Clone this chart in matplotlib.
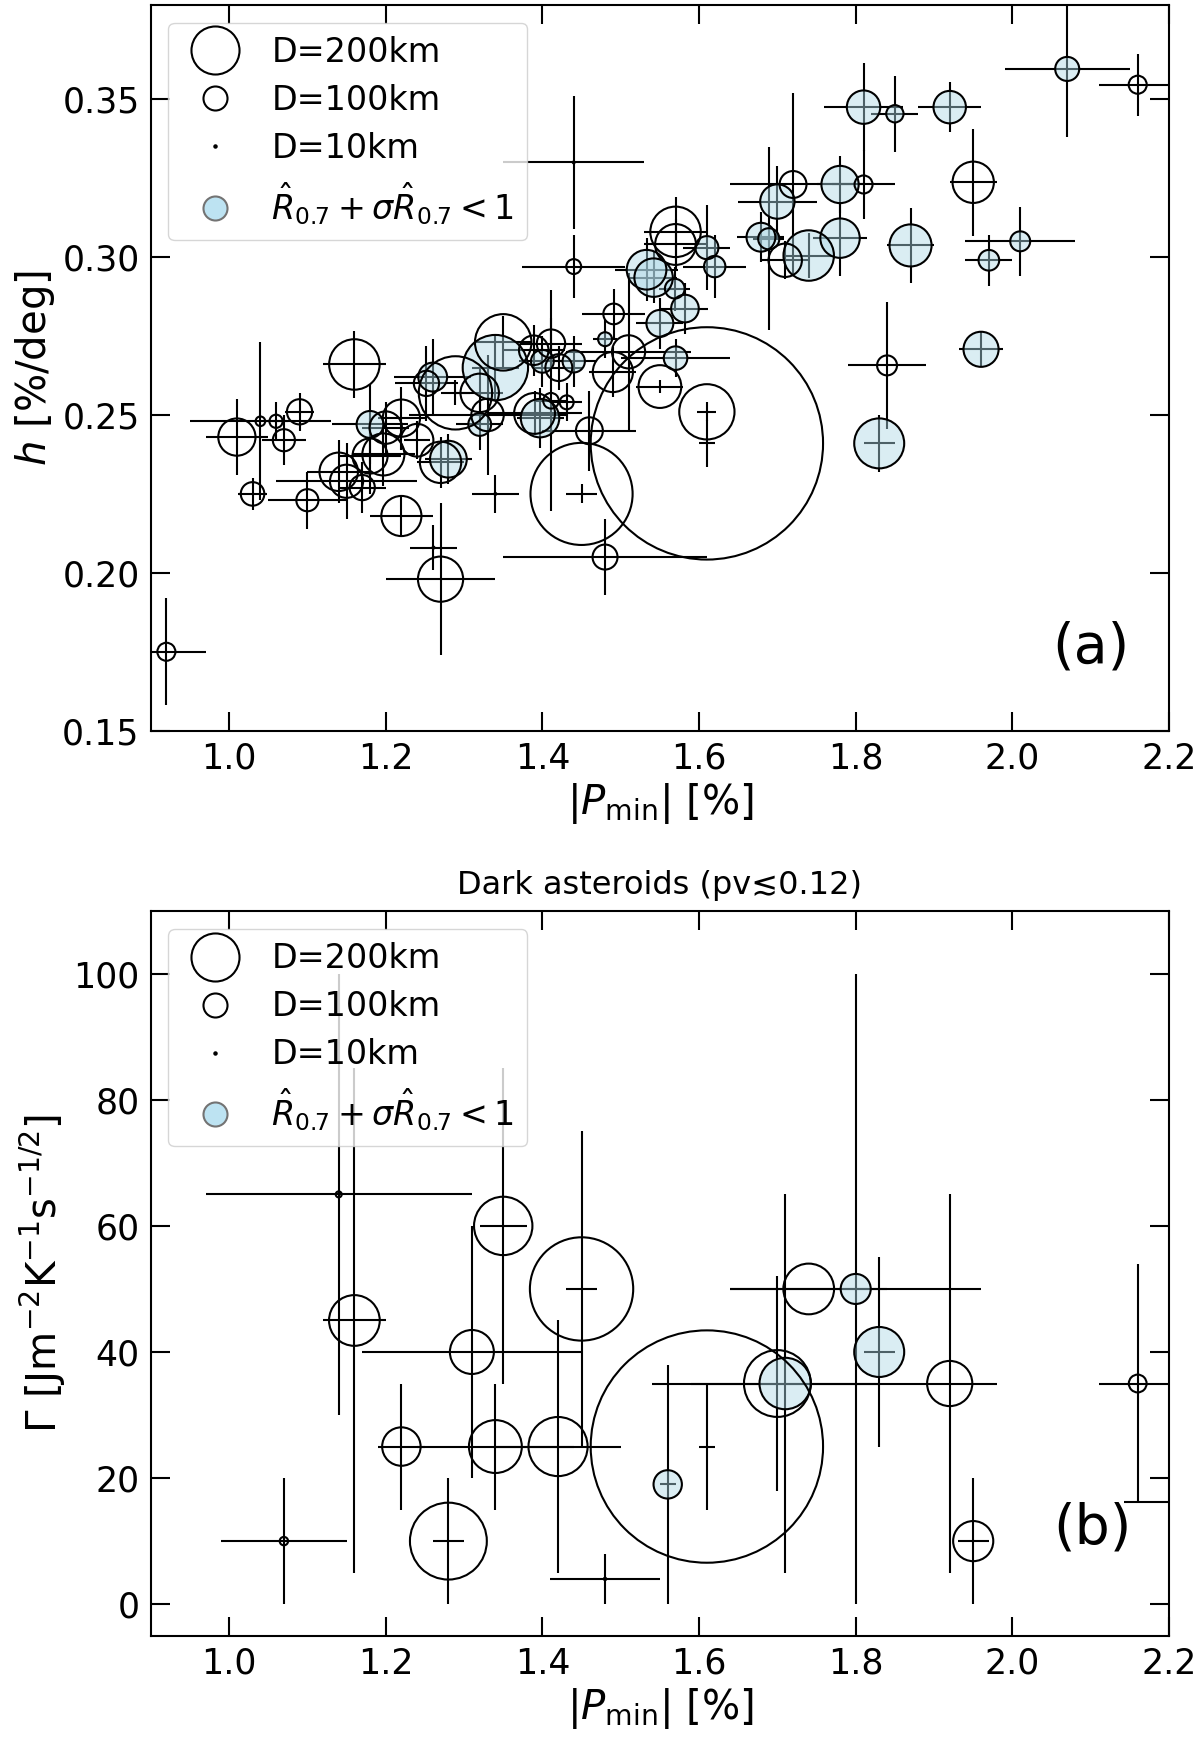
import numpy as np
import matplotlib
matplotlib.use('Agg')
import matplotlib.pyplot as plt
from matplotlib.lines import Line2D

# ---- panel (a): |Pmin| vs slope h ----
pmin_a = [0.920, 1.010, 1.040, 1.060, 1.090, 1.070, 1.030, 1.100, 1.160, 1.140,
          1.150, 1.170, 1.180, 1.180, 1.197, 1.200, 1.220, 1.240, 1.220, 1.252,
          1.260, 1.270, 1.280, 1.261, 1.270, 1.289, 1.320, 1.320, 1.330, 1.340,
          1.350, 1.340, 1.389, 1.400, 1.411, 1.421, 1.440, 1.390, 1.397, 1.411,
          1.431, 1.440, 1.440, 1.450, 1.460, 1.480, 1.491, 1.490, 1.510, 1.480,
          1.533, 1.542, 1.550, 1.582, 1.569, 1.550, 1.570, 1.570, 1.570, 1.610,
          1.620, 1.610, 1.610, 1.679, 1.689, 1.700, 1.710, 1.740, 1.720, 1.780,
          1.810, 1.780, 1.810, 1.850, 1.920, 1.870, 1.840, 1.830, 1.950, 1.960,
          1.970, 2.010, 2.070, 2.160]
pmin_a_err = [0.050, 0.040, 0.090, 0.015, 0.019, 0.028, 0.019, 0.050, 0.040, 0.040,
              0.090, 0.030, 0.049, 0.040, 0.040, 0.030, 0.030, 0.017, 0.040, 0.040,
              0.049, 0.030, 0.030, 0.030, 0.070, 0.018, 0.030, 0.030, 0.100, 0.030,
              0.035, 0.030, 0.040, 0.030, 0.040, 0.030, 0.030, 0.060, 0.030, 0.020,
              0.020, 0.066, 0.090, 0.020, 0.060, 0.015, 0.040, 0.030, 0.080, 0.130,
              0.040, 0.030, 0.030, 0.030, 0.020, 0.030, 0.070, 0.040, 0.040, 0.030,
              0.040, 0.012, 0.010, 0.030, 0.020, 0.050, 0.030, 0.030, 0.080, 0.030,
              0.040, 0.034, 0.050, 0.030, 0.040, 0.030, 0.050, 0.020, 0.030, 0.028,
              0.030, 0.070, 0.080, 0.050]
h = [0.175, 0.243, 0.248, 0.248, 0.251, 0.242, 0.225, 0.223, 0.266, 0.232,
     0.229, 0.227, 0.247, 0.237, 0.2375, 0.246, 0.249, 0.242, 0.218, 0.260,
     0.262, 0.235, 0.236, 0.208, 0.198, 0.257, 0.257, 0.247, 0.250, 0.265,
     0.273, 0.225, 0.2705, 0.267, 0.2726, 0.265, 0.267, 0.2505, 0.249, 0.2545,
     0.254, 0.297, 0.330, 0.225, 0.245, 0.274, 0.282, 0.2636, 0.270, 0.205,
     0.296, 0.2935, 0.279, 0.2837, 0.290, 0.259, 0.268, 0.308, 0.304, 0.303,
     0.297, 0.251, 0.241, 0.3063, 0.3058, 0.3176, 0.299, 0.3005, 0.323, 0.323,
     0.323, 0.306, 0.3475, 0.3454, 0.3475, 0.3037, 0.2657, 0.241, 0.3237, 0.2708,
     0.299, 0.305, 0.3596, 0.3546]
h_err = [0.017, 0.012, 0.025, 0.006, 0.006, 0.008, 0.005, 0.009, 0.0105, 0.010,
         0.012, 0.008, 0.0125, 0.012, 0.010, 0.008, 0.010, 0.006, 0.006, 0.012,
         0.012, 0.008, 0.008, 0.007, 0.024, 0.004, 0.008, 0.008, 0.019, 0.010,
         0.0085, 0.006, 0.008, 0.008, 0.008, 0.007, 0.008, 0.007, 0.0095, 0.035,
         0.006, 0.010, 0.021, 0.003, 0.0127, 0.006, 0.008, 0.008, 0.025, 0.012,
         0.010, 0.008, 0.008, 0.008, 0.007, 0.002, 0.006, 0.011, 0.008, 0.0135,
         0.010, 0.003, 0.0074, 0.008, 0.029, 0.0114, 0.006, 0.007, 0.029, 0.009,
         0.011, 0.012, 0.014, 0.012, 0.008, 0.012, 0.020, 0.009, 0.017, 0.0055,
         0.008, 0.011, 0.0216, 0.0098]
diam_a = [75, 155, 40, 55, 105, 92, 98, 92, 210, 160,
          138, 105, 112, 146, 175, 135, 155, 136, 167, 105,
          120, 172, 153, 8, 188, 305, 160, 95, 135, 272,
          235, 8, 123, 95, 118, 112, 93, 170, 160, 65,
          58, 62, 8, 425, 112, 58, 86, 167, 138, 104,
          165, 160, 112, 115, 82, 178, 98, 210, 170, 96,
          89, 230, 967, 120, 88, 143, 139, 210, 112, 155,
          75, 164, 139, 72, 135, 175, 83, 208, 172, 146,
          86, 83, 100, 75]
flag_a = [0, 0, 0, 0, 0, 0, 0, 0, 0, 0,
          0, 0, 1, 0, 0, 0, 0, 0, 0, 0,
          1, 0, 1, 0, 0, 0, 0, 1, 0, 1,
          0, 0, 0, 1, 0, 0, 1, 0, 1, 0,
          0, 0, 0, 0, 0, 1, 0, 0, 0, 0,
          1, 1, 1, 1, 1, 0, 1, 0, 0, 1,
          1, 0, 0, 1, 1, 1, 0, 1, 0, 1,
          0, 1, 1, 1, 1, 1, 0, 1, 0, 1,
          1, 1, 1, 0]

# ---- panel (b): dark asteroids, |Pmin| vs thermal inertia ----
pmin_b = [1.07, 1.14, 1.16, 1.31, 1.35, 1.45, 1.22, 1.34, 1.42, 1.28,
          1.48, 1.56, 1.61, 1.70, 1.71, 1.92, 1.74, 1.80, 1.83, 1.95,
          2.16, 2.30]
pmin_b_err = [0.08, 0.17, 0.04, 0.14, 0.03, 0.02, 0.03, 0.10, 0.08, 0.02,
              0.07, 0.01, 0.01, 0.16, 0.12, 0.06, 0.10, 0.16, 0.02, 0.02,
              0.05, 0.158]
gamma = [10, 65, 45, 40, 60, 50, 25, 25, 25, 10,
         4, 19, 25, 35, 35, 35, 50, 50, 40, 10,
         35, 16.2]
gamma_err = [10, 35, 40, 20, 25, 25, 10, 10, 20, 10,
             4, 19, 10, 17, 30, 30, 0, 50, 15, 10,
             19, 0]
diam_b = [35, 25, 211, 183, 243, 430, 160, 220, 246, 320,
          10, 118, 967, 278, 214, 188, 211, 125, 208, 167,
          74, 100]
flag_b = [0, 0, 0, 0, 0, 0, 0, 0, 0, 0,
          0, 1, 0, 0, 1, 0, 0, 1, 1, 0,
          0, 0]

k_ms = 0.173  # marker diameter in points per km


def draw_panel(ax, x, y, xe, ye, d, flag):
    x = np.array(x); y = np.array(y)
    d = np.array(d, float); f = np.array(flag, bool)
    s = (k_ms * d) ** 2
    ax.errorbar(x, y, xerr=xe, yerr=ye, fmt='none', ecolor='k',
                elinewidth=1.5, capsize=0, zorder=1)
    ax.scatter(x[f], y[f], s=s[f], color='lightblue', alpha=0.45,
               linewidths=0, zorder=2)
    ax.scatter(x, y, s=s, facecolors='none', edgecolors='k',
               linewidths=1.5, zorder=3)


def style(ax):
    ax.tick_params(direction='in', length=14, width=1.5, top=True, right=True,
                   labelsize=25, pad=8)
    for sp in ax.spines.values():
        sp.set_linewidth(1.5)
    ax.set_xlim(0.9, 2.2)
    ax.set_xticks(np.arange(1.0, 2.21, 0.2))
    ax.set_xlabel(r'$|P_{\rm min}|$ [%]', fontsize=29)
    handles = [
        Line2D([], [], ls='none', marker='o', ms=k_ms * 200, mfc='none', mec='k', mew=1.5),
        Line2D([], [], ls='none', marker='o', ms=k_ms * 100, mfc='none', mec='k', mew=1.5),
        Line2D([], [], ls='none', marker='o', ms=k_ms * 10, mfc='none', mec='k', mew=1.5),
        Line2D([], [], ls='none', marker='o', ms=k_ms * 100, mfc=(0.74, 0.89, 0.95),
               mec='0.45', mew=1.5),
    ]
    labels = ['D=200km', 'D=100km', 'D=10km',
              r'$\hat{R}_{0.7}+\sigma\hat{R}_{0.7}<1$']
    ax.legend(handles, labels, loc='upper left', bbox_to_anchor=(0.017, 0.975),
              borderaxespad=0, fontsize=24, handletextpad=0.7, labelspacing=0.45)


fig = plt.figure(figsize=(12, 17.41), dpi=100)
ax1 = fig.add_axes([0.1256, 0.5803, 0.8486, 0.4171])
ax2 = fig.add_axes([0.1256, 0.0605, 0.8486, 0.4164])

draw_panel(ax1, pmin_a, h, pmin_a_err, h_err, diam_a, flag_a)
style(ax1)
ax1.set_ylim(0.15, 0.38)
ax1.set_yticks([0.15, 0.20, 0.25, 0.30, 0.35])
ax1.set_ylabel(r'$h$ [%/deg]', fontsize=29)
ax1.text(0.923, 0.114, '(a)', transform=ax1.transAxes, fontsize=40,
         ha='center', va='center')

draw_panel(ax2, pmin_b, gamma, pmin_b_err, gamma_err, diam_b, flag_b)
style(ax2)
ax2.set_ylim(-5, 110)
ax2.set_yticks(np.arange(0, 101, 20))
ax2.set_ylabel(r'$\Gamma$ [Jm$^{-2}$K$^{-1}$s$^{-1/2}$]', fontsize=29)
ax2.set_title('Dark asteroids (pv\u22720.12)', fontsize=23, pad=12)
ax2.text(0.925, 0.148, '(b)', transform=ax2.transAxes, fontsize=40,
         ha='center', va='center')

fig.savefig('out.png', dpi=100)
